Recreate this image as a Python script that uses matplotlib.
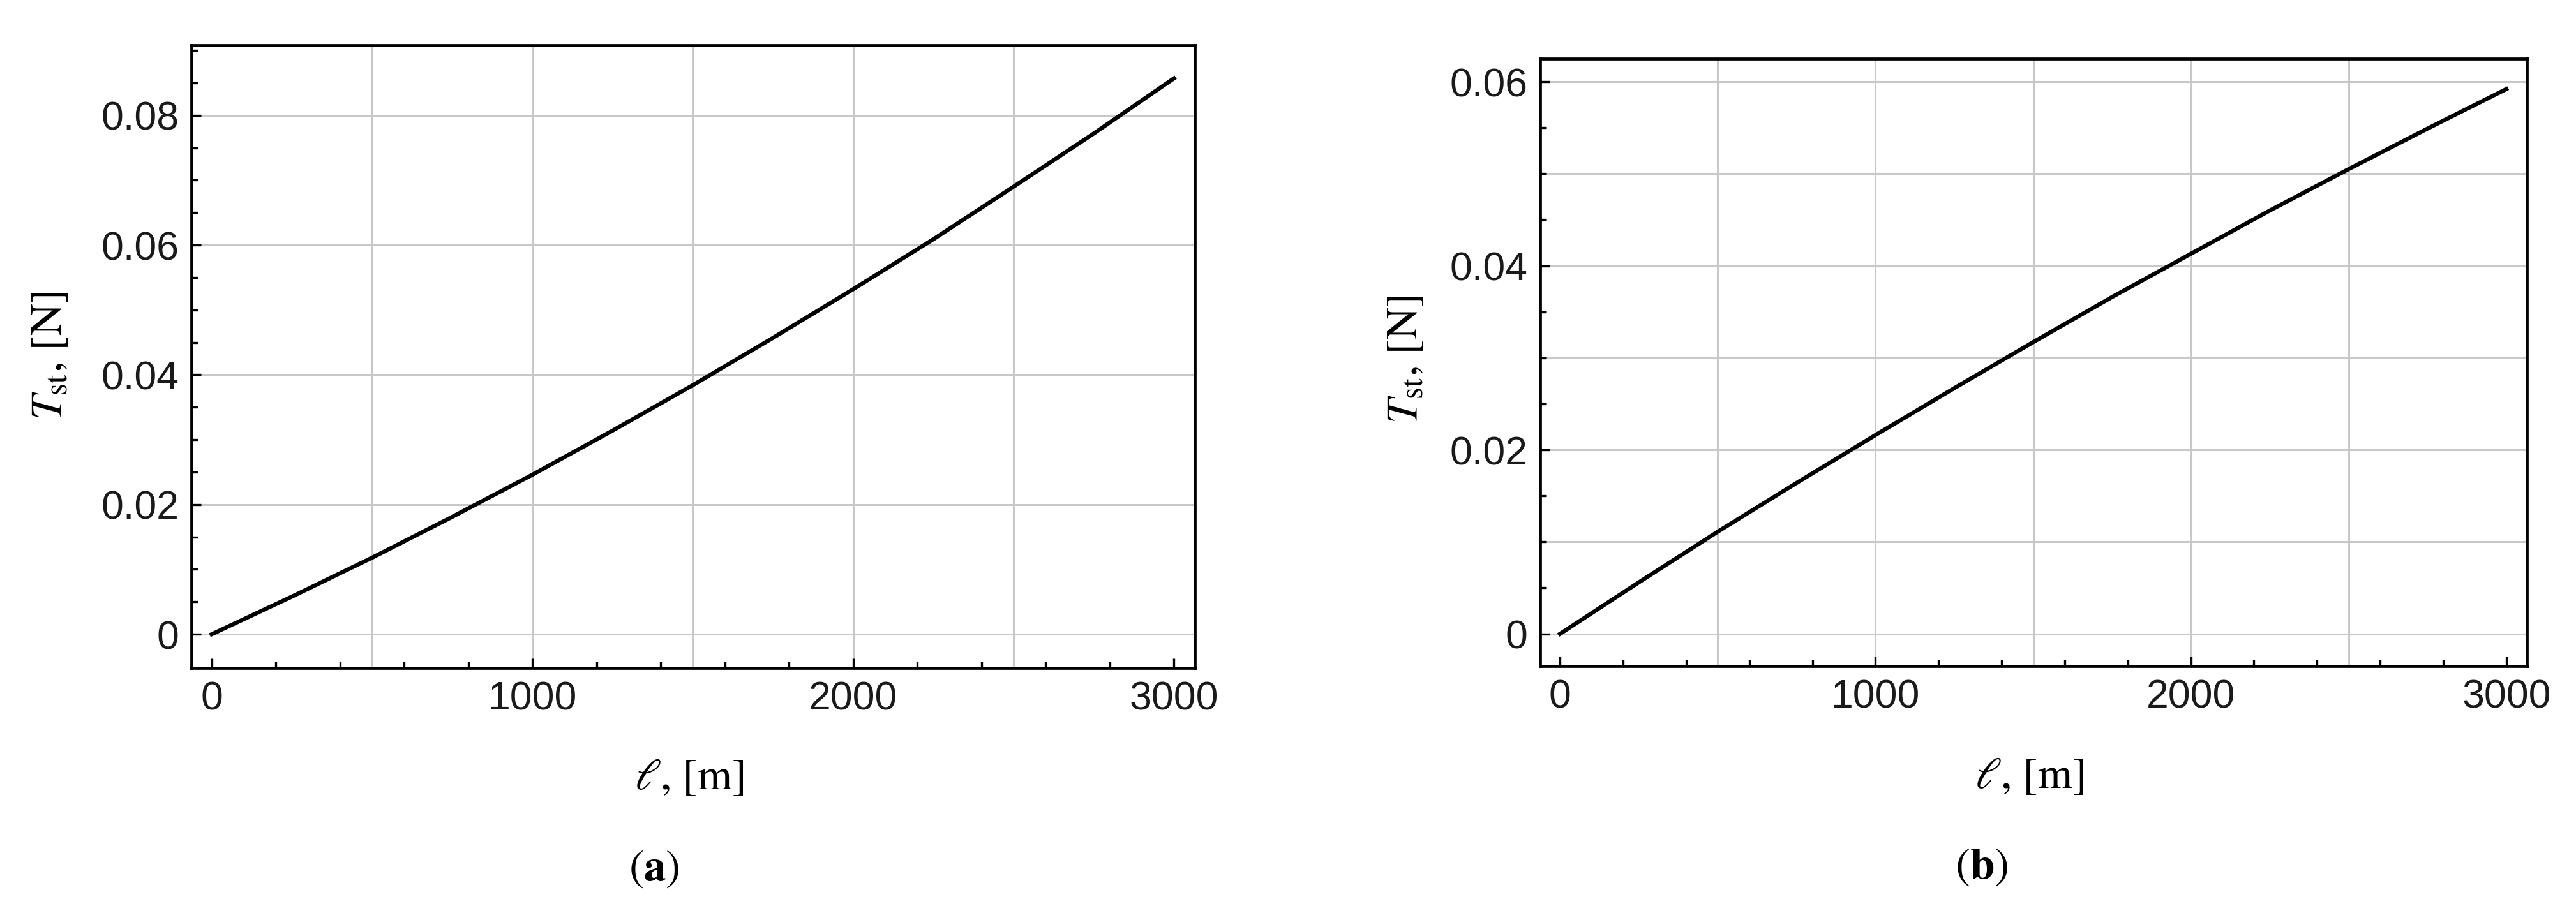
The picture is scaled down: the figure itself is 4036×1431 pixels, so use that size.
import matplotlib
matplotlib.use("Agg")
import matplotlib.pyplot as plt
import numpy as np

# ---- data (length in m, tension in N)
length_m = [0, 250, 500, 750, 1000, 1250, 1500, 1750, 2000, 2250, 2500, 2750, 3000]
tension_a = [0.0, 0.0058, 0.0118, 0.0181, 0.0246, 0.0314, 0.0384, 0.0457,
             0.0532, 0.0609, 0.0690, 0.0772, 0.0857]
tension_b = [0.0, 0.0056, 0.0111, 0.0164, 0.0216, 0.0267, 0.0317, 0.0366,
             0.0413, 0.0460, 0.0505, 0.0549, 0.0592]

x_major = [0, 1000, 2000, 3000]
x_labels = ["0", "1000", "2000", "3000"]
y_major_a = [0, 0.02, 0.04, 0.06, 0.08]
y_labels_a = ["0", "0.02", "0.04", "0.06", "0.08"]
y_major_b = [0, 0.02, 0.04, 0.06]
y_labels_b = ["0", "0.02", "0.04", "0.06"]

plt.rcParams['mathtext.fontset'] = 'stix'

W, H = 4036, 1431
fig = plt.figure(figsize=(W / 100, H / 100), dpi=100)


def px_axes(x0, y0, x1, y1):
    return fig.add_axes([x0 / W, 1 - y1 / H, (x1 - x0) / W, (y1 - y0) / H])


def style_axes(ax, ylim, ymajor, ylabels, ygrid):
    ax.set_xlim(-63, 3065)
    ax.set_ylim(*ylim)
    for v in [500, 1000, 1500, 2000, 2500]:
        ax.axvline(v, color="#c8c8c8", lw=2.2, zorder=0)
    for v in ygrid:
        ax.axhline(v, color="#c8c8c8", lw=2.2, zorder=0)
    ax.set_xticks(x_major)
    ax.set_xticklabels(x_labels)
    ax.set_xticks([v for v in range(200, 3000, 200) if v % 1000], minor=True)
    ax.set_yticks(ymajor)
    ax.set_yticklabels(ylabels)
    ymin_t = [round(k * 0.005, 3) for k in range(1, int(ylim[1] / 0.005) + 1)]
    ax.set_yticks([v for v in ymin_t if v not in ymajor], minor=True)
    ax.tick_params(which="both", direction="in", top=False, right=False,
                   width=2.4, color="black")
    ax.tick_params(which="major", length=10.5, labelsize=45, pad=14)
    ax.tick_params(which="minor", length=7)
    ax.tick_params(axis="x", which="major", pad=14)
    for lab in ax.get_xticklabels() + ax.get_yticklabels():
        lab.set_family("Liberation Sans")
        lab.set_color("#1a1a1a")
    for s in ax.spines.values():
        s.set_linewidth(3.4)


ax1 = px_axes(300, 71, 1872, 1047)
ax1.plot(length_m, tension_a, color="black", lw=4.6, zorder=3)
style_axes(ax1, (-0.0052, 0.0908), y_major_a, y_labels_a, y_major_a)

ax2 = px_axes(2413, 92, 3959, 1044)
ax2.plot(length_m, tension_b, color="black", lw=4.6, zorder=3)
style_axes(ax2, (-0.0035, 0.0625), y_major_b, y_labels_b,
           [0, 0.01, 0.02, 0.03, 0.04, 0.05, 0.06])

# axis labels and panel captions
lab_kw = dict(fontsize=50, family="STIXGeneral", ha="center", va="center")
fig.text(80 / W, 1 - 557 / H, r"$T_{\mathrm{st}}$, [N]", rotation=90, **lab_kw)
fig.text(2204 / W, 1 - 563 / H, r"$T_{\mathrm{st}}$, [N]", rotation=90, **lab_kw)
fig.text(1080 / W, 1 - 1221 / H, r"$\ell$, [m]", **lab_kw)
fig.text(3180 / W, 1 - 1218 / H, r"$\ell$, [m]", **lab_kw)
fig.text(1025 / W, 1 - 1363 / H, r"($\mathbf{a}$)", **lab_kw)
fig.text(3105 / W, 1 - 1360 / H, r"($\mathbf{b}$)", **lab_kw)

fig.savefig("out.png", dpi=100)
